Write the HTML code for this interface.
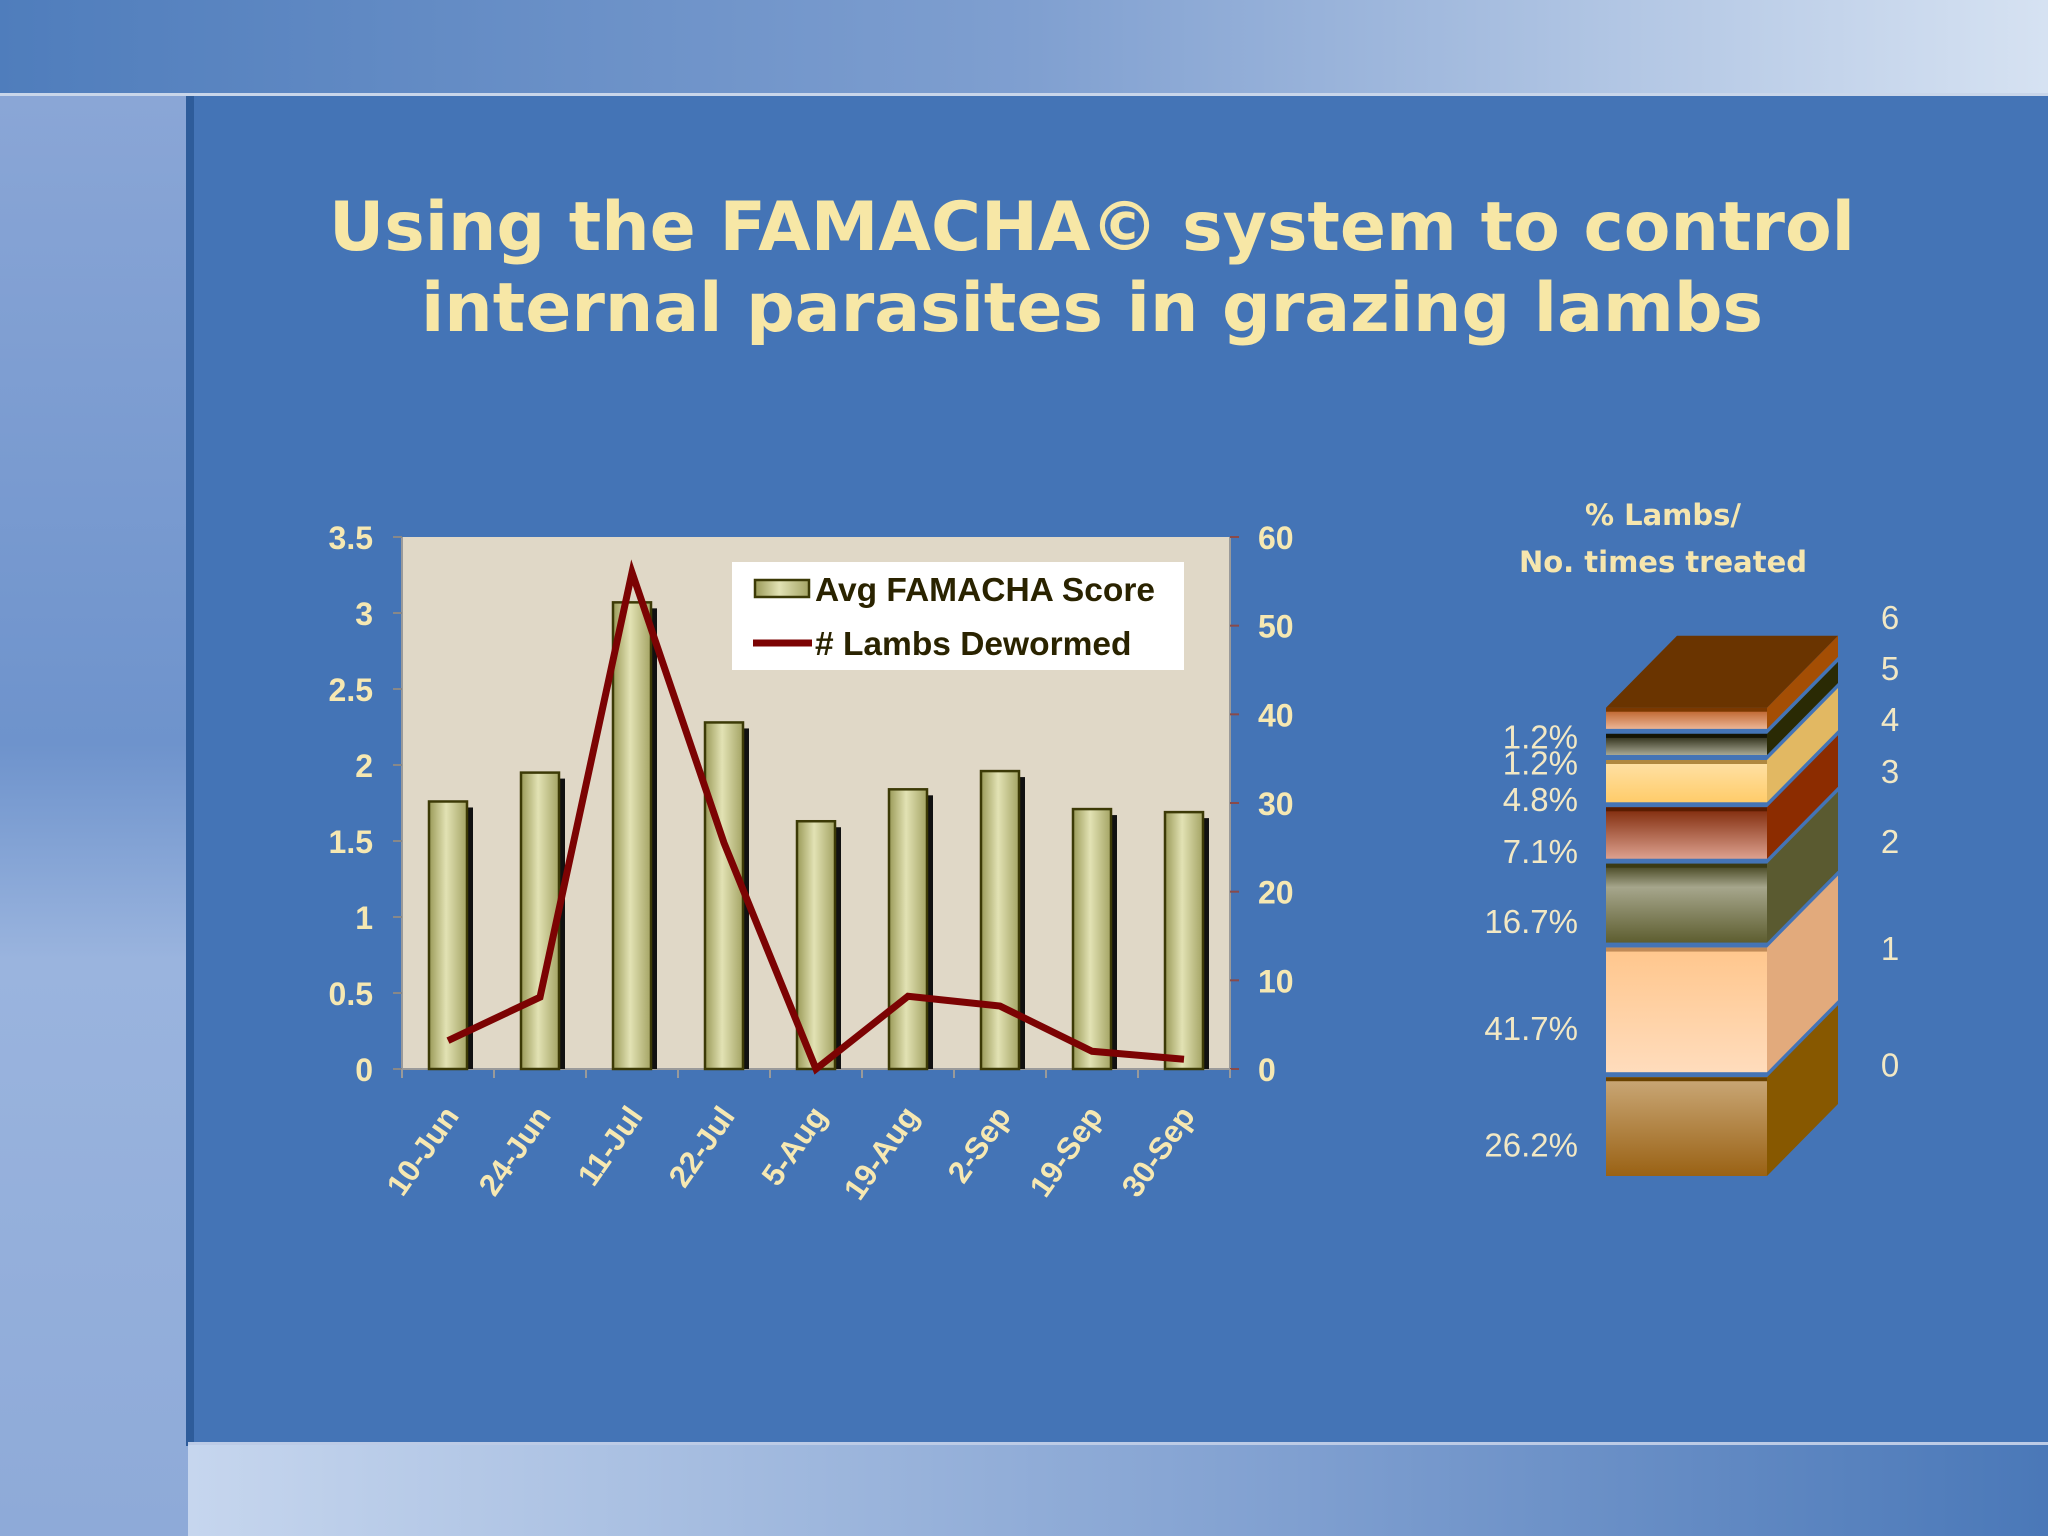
<!DOCTYPE html>
<html><head><meta charset="utf-8">
<style>
html,body{margin:0;padding:0;width:2048px;height:1536px;overflow:hidden;background:#4474b6}
svg{display:block}
</style></head>
<body>
<svg id="s" width="2048" height="1536" viewBox="0 0 2048 1536" xmlns="http://www.w3.org/2000/svg">
<defs>
<linearGradient id="topband" x1="0" x2="1" y1="0" y2="0"><stop offset="0" stop-color="#4f7dbc"/><stop offset="0.5" stop-color="#7f9fd0"/><stop offset="1" stop-color="#d6e2f2"/></linearGradient>
<linearGradient id="leftband" x1="0" x2="0" y1="0" y2="1"><stop offset="0" stop-color="#8aa6d6"/><stop offset="0.45" stop-color="#6e93cc"/><stop offset="0.6" stop-color="#9ab4de"/><stop offset="1" stop-color="#8eaad8"/></linearGradient>
<linearGradient id="botband" x1="0" x2="1" y1="0" y2="0"><stop offset="0" stop-color="#c6d6ee"/><stop offset="0.6" stop-color="#7f9fd0"/><stop offset="1" stop-color="#4a78b8"/></linearGradient>
<linearGradient id="bar" x1="0" x2="1" y1="0" y2="0"><stop offset="0" stop-color="#9a9a58"/><stop offset="0.45" stop-color="#e2e2b4"/><stop offset="1" stop-color="#a4a464"/></linearGradient>
<linearGradient id="f0" x1="0" y1="0" x2="0" y2="1"><stop offset="0" stop-color="#caa878"/><stop offset="1" stop-color="#9a6214"/></linearGradient>
<linearGradient id="f1" x1="0" y1="0" x2="0" y2="1"><stop offset="0" stop-color="#ffc68c"/><stop offset="1" stop-color="#ffdcbc"/></linearGradient>
<linearGradient id="f2" x1="0" y1="0" x2="0" y2="1"><stop offset="0" stop-color="#3e3e18"/><stop offset="0.3" stop-color="#a6a68c"/><stop offset="1" stop-color="#5e5e30"/></linearGradient>
<linearGradient id="f3" x1="0" y1="0" x2="0" y2="1"><stop offset="0" stop-color="#7e2808"/><stop offset="1" stop-color="#dca08e"/></linearGradient>
<linearGradient id="f4" x1="0" y1="0" x2="0" y2="1"><stop offset="0" stop-color="#ffe2a8"/><stop offset="1" stop-color="#ffcc6a"/></linearGradient>
<linearGradient id="f5" x1="0" y1="0" x2="0" y2="1"><stop offset="0" stop-color="#1e1e08"/><stop offset="1" stop-color="#a8a894"/></linearGradient>
<linearGradient id="f6" x1="0" y1="0" x2="0" y2="1"><stop offset="0" stop-color="#b85a20"/><stop offset="1" stop-color="#ecb494"/></linearGradient>
</defs>
<rect x="0" y="0" width="2048" height="95" fill="url(#topband)"/>
<rect x="0" y="93" width="2048" height="3" fill="#c9d6ea"/>
<rect x="0" y="96" width="188" height="1440" fill="url(#leftband)"/>
<rect x="186" y="96" width="8" height="1350" fill="#2e5c9a"/>
<rect x="188" y="1444" width="1860" height="92" fill="url(#botband)"/>
<rect x="188" y="1442" width="1860" height="3" fill="#bccbe6"/>

<text x="1092" y="250" text-anchor="middle" font-family="'DejaVu Sans',sans-serif" font-weight="bold" font-size="68" fill="#f7e7a6">Using the FAMACHA© system to control</text>
<text x="1092" y="331" text-anchor="middle" font-family="'DejaVu Sans',sans-serif" font-weight="bold" font-size="68" fill="#f7e7a6">internal parasites in grazing lambs</text>

<g id="chart"></g>
<g id="stack"></g>
</svg>
<script>
const categories = ["10-Jun","24-Jun","11-Jul","22-Jul","5-Aug","19-Aug","2-Sep","19-Sep","30-Sep"];
const famachaScores = [1.76,1.95,3.07,2.28,1.63,1.84,1.96,1.71,1.69];
const lambsDewormed = [3.2,8.1,56,25.5,0,8.2,7.1,2,1.1];
const leftTicks = [0,0.5,1,1.5,2,2.5,3,3.5];
const leftTickLabels = ["0","0.5","1","1.5","2","2.5","3","3.5"];
const rightTicks = [0,10,20,30,40,50,60];

const stackTimes = ["0","1","2","3","4","5","6"];
const stackPercents = [26.2,41.7,16.7,7.1,4.8,1.2,1.2];
const stackLabels = ["26.2%","41.7%","16.7%","7.1%","4.8%","1.2%","1.2%"];

const NS="http://www.w3.org/2000/svg";
function mk(tag,attrs,parent){const e=document.createElementNS(NS,tag);for(const k in attrs)e.setAttribute(k,attrs[k]);parent.appendChild(e);return e;}

const g=document.getElementById('chart');
const L=402,R=1230,T=537,B=1069;
const yL=v=>B-(v/3.5)*(B-T);
const yR=v=>B-(v/60)*(B-T);
const bw=(R-L)/categories.length;
const xC=i=>L+bw*(i+0.5);
const cream="#f6e8b2";

let bg=mk('rect',{x:L,y:T,width:R-L,height:B-T,fill:'#e0d8c7'},g);


let ax=mk('line',{x1:L,y1:T,x2:L,y2:B,stroke:'#9a9a9a','stroke-width':2},g);


let ax2=mk('line',{x1:R,y1:T,x2:R,y2:B,stroke:'#9a9a9a','stroke-width':2},g);


let ax3=mk('line',{x1:L,y1:B,x2:R,y2:B,stroke:'#9a9a9a','stroke-width':2},g);



leftTicks.forEach((v,i)=>{
  const y=yL(v);
  mk('line',{x1:L-9,y1:y,x2:L,y2:y,stroke:'#888','stroke-width':2},g);
  const t=mk('text',{x:373,y:y+12,'text-anchor':'end','font-family':"'Liberation Sans',sans-serif",'font-weight':'bold','font-size':32,fill:cream},g);
  t.textContent=leftTickLabels[i];
  
  
});
rightTicks.forEach(v=>{
  const y=yR(v);
  mk('line',{x1:R,y1:y,x2:R+9,y2:y,stroke:'#8a4a4a','stroke-width':2},g);
  const t=mk('text',{x:1258,y:y+12,'font-family':"'Liberation Sans',sans-serif",'font-weight':'bold','font-size':32,fill:cream},g);
  t.textContent=String(v);
  
  
});
for(let i=0;i<=categories.length;i++){
  const x=L+bw*i;
  mk('line',{x1:x,y1:B,x2:x,y2:B+9,stroke:'#9a9a9a','stroke-width':2},g);
}
const BW=38;
famachaScores.forEach((v,i)=>{
  const x=xC(i)-BW/2,y=yL(v);
  mk('rect',{x:x+6,y:y+6,width:BW,height:B-y-6,fill:'#111'},g);
  const r=mk('rect',{x:x,y:y,width:BW,height:B-y,fill:'url(#bar)',stroke:'#3c3a06','stroke-width':2.5},g);
  
  
});
const pts=lambsDewormed.map((v,i)=>xC(i)+','+yR(v)).join(' ');
const pl=mk('polyline',{points:pts,fill:'none',stroke:'#7c0303','stroke-width':7,'stroke-linejoin':'miter'},g);



categories.forEach((c,i)=>{
  const x=xC(i)+12,y=1116;
  const t=mk('text',{x:x,y:y,'text-anchor':'end','font-family':"'Liberation Sans',sans-serif",'font-weight':'bold','font-size':31,fill:cream,transform:`rotate(-55 ${x} ${y})`},g);
  t.textContent=c;
  
  
});

const lg=mk('g',{},g);


mk('rect',{x:732,y:562,width:452,height:108,fill:'#ffffff'},lg);
mk('rect',{x:755,y:580,width:54,height:17,fill:'url(#bar)',stroke:'#3c3a06','stroke-width':2.5},lg);
let lt1=mk('text',{x:815,y:601,'font-family':"'Liberation Sans',sans-serif",'font-weight':'bold','font-size':33.5,fill:'#2a2300'},lg);
lt1.textContent='Avg FAMACHA Score';


mk('line',{x1:753,y1:643,x2:812,y2:643,stroke:'#7c0303','stroke-width':7},lg);
let lt2=mk('text',{x:815,y:655,'font-family':"'Liberation Sans',sans-serif",'font-weight':'bold','font-size':33.5,fill:'#2a2300'},lg);
lt2.textContent='# Lambs Dewormed';



/* stacked 3D chart */
const sg=document.getElementById('stack');
const st1=mk('text',{x:1663,y:525,'text-anchor':'middle','font-family':"'DejaVu Sans',sans-serif",'font-weight':'bold','font-size':29,fill:'#f6e6ae'},sg);
st1.textContent='% Lambs/';


const st2=mk('text',{x:1663,y:572,'text-anchor':'middle','font-family':"'DejaVu Sans',sans-serif",'font-weight':'bold','font-size':29,fill:'#f6e6ae'},sg);
st2.textContent='No. times treated';



const FX=1606,FW=161,DX=71,DY=72,BOT=1176,GAP=5;
const hOf=p=>19.3*Math.sqrt(p);
const fronts=['url(#f0)','url(#f1)','url(#f2)','url(#f3)','url(#f4)','url(#f5)','url(#f6)'];
const sides=['#875800','#e2aa7c','#5a5a30','#8c2c00','#e2b862','#2a2a04','#a44e04'];
const seams=['#6a4200','#c08a58','#3a3a14','#5a1c00','#b08840','#141404','#7a3800'];
let yb=BOT, prevR=99999;
stackPercents.forEach((p,i)=>{
  const h=hOf(p), yt=yb-h;
  const sgp=mk('g',{},sg);
  
  
  mk('polygon',{points:`${FX+FW},${yt} ${FX+FW+DX},${yt-DY} ${FX+FW+DX},${yb-DY} ${FX+FW},${yb}`,fill:sides[i]},sgp);
  mk('rect',{x:FX,y:yt,width:FW,height:h,fill:fronts[i]},sgp);
  mk('rect',{x:FX,y:yt,width:FW,height:4,fill:seams[i]},sgp);
  if(i===stackPercents.length-1){
    mk('polygon',{points:`${FX},${yt} ${FX+DX},${yt-DY} ${FX+FW+DX},${yt-DY} ${FX+FW},${yt}`,fill:'#6a3400'},sgp);
  }
  const c=yt+h/2;
  const lt=mk('text',{x:1578,y:c+18+12,'text-anchor':'end','font-family':"'Liberation Sans',sans-serif",'font-size':33,fill:'#f2e8c4'},sg);
  lt.textContent=stackLabels[i];
  
  
  let ry=Math.min(c-62, prevR-51);
  prevR=ry;
  const rt=mk('text',{x:1890,y:ry+12,'text-anchor':'middle','font-family':"'Liberation Sans',sans-serif",'font-size':33,fill:'#f2e8c4'},sg);
  rt.textContent=stackTimes[i];
  
  
  yb=yt-GAP;
});
</script>
</body></html>
